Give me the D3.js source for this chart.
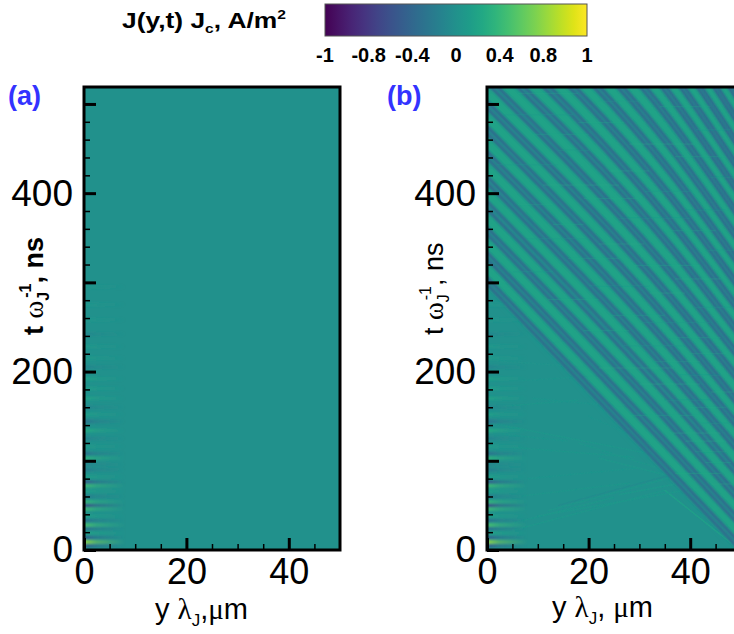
<!DOCTYPE html>
<html>
<head>
<meta charset="utf-8">
<title>J(y,t)</title>
<script src="https://cdn.jsdelivr.net/npm/d3@7"></script>
<style>
  html, body { margin: 0; padding: 0; background: #fff; overflow: hidden; }
  text { font-family: "Liberation Sans", Arial, sans-serif; }
</style>
</head>
<body>
<div id="chart"></div>
<script>
// colorbar
const barValues = [-1, -0.8, -0.4, 0, 0.4, 0.8, 1];
const barLabels = ["-1", "-0.8", "-0.4", "0", "0.4", "0.8", "1"];

// axis ticks
const tMajor = [0, 100, 200, 300, 400, 500];
const tMinor = [20, 40, 60, 80, 120, 140, 160, 180, 220, 240, 260, 280, 320, 340, 360, 380, 420, 440, 460, 480];
const tLabelled = [0, 200, 400];
const yMajor = [0, 20, 40];
const yMinor = [5, 10, 15, 25, 30, 35, 45];

// fluxon stripes in panel b, t read where each crosses y = stripeY[i]
const stripeY = [0, 36, 50];
const stripeT0 = [298,306,326,334,354,362,382,391,411,419,439,447,467,475,495,503,523,531,552,560,580,588,608,616,636,644,664,672,693,701,721,729,749,757,777,785,805,813,833,841,861,869];
const stripeT1 = [83,91,111,119,139,147,167,176,196,204,224,232,252,260,280,288,308,316,337,345,365,373,393,401,421,429,449,457,478,486,506,514,534,542,562,570,590,598,618,626,646,654];
const stripeT2 = [-1,7,25,33,51,59,78,86,105,113,131,139,157,165,184,192,210,218,236,244,262,270,288,296,314,322,340,348,367,375,393,401,419,427,445,453,471,479,497,505,523,531];

// bursts at the y = 0 edge, both panels
const burstT = [5,9,14,19,24,28,33,38,46,50,54,60,66,72,76,82,90,96,103,108,116,125,134,144,152,160,170,181,192,205,215,228,242,258,275,295];
const burstAmp = [-0.5,0.8,-0.45,0.2,-0.35,0.5,-0.3,0.15,0.45,-0.7,0.4,-0.2,0.15,0.45,-0.5,0.15,-0.2,-0.15,0.35,-0.3,0.12,-0.15,0.28,-0.3,0.15,-0.12,0.2,0.15,0.18,-0.12,0.12,0.1,-0.1,0.08,0.07,0.06];
const burstReach = 8;

// faint rays below the front in panel b
const rayY0 = [5,5,5,18,1,1,7,35,12,8,20,3,10,14,6,22,26,9,2,16];
const rayT0 = [22,30,115,120,142,160,190,67,44,80,150,130,38,50,60,103,62,170,212,236];
const rayY1 = [35,25,29,33,31,18,24,48,38,30,32,16,42,36,28,38,41,28,19,13];
const rayT1 = [67,59,104,93,109,168,196,8,84,92,120,122,70,84,75,80,78,160,205,232];
const rayAmp = [0.06,0.06,0.05,0.05,0.06,0.05,0.04,0.15,0.06,0.04,0.04,0.04,0.06,-0.04,0.05,0.06,0.07,0.04,0.03,0.03];

// short horizontal streaks over the stripes in panel b
const streakT = [512,503,497,488,479,471,466,455,448,441,432,425,418,409,402,394,387,381,372,365,358,349,343,336,327,319,312,304,296,288,281,272,263,255,246,238,229,220,211,204,196,186,177,168,160,151,142,131,122,110,98,86,74];
const streakY0 = [6,22,34,3,18,41,9,28,14,37,2,24,44,11,31,19,6,39,26,13,35,8,22,43,16,29,5,37,20,32,12,41,24,30,19,36,27,40,33,22,38,30,44,35,40,28,42,36,39,41,43,37,44];
const streakLen = [12,8,10,14,9,7,11,13,6,10,12,8,6,15,9,11,7,8,14,6,10,12,9,6,10,13,8,9,12,7,10,8,11,14,9,10,12,7,9,15,8,12,5,9,7,14,6,10,8,6,5,9,5];
const streakAmp = [0.24,0.04,0.22,0.06,0.25,0.05,0.2,0.26,0.04,0.22,0.06,0.24,0.05,0.2,0.05,0.24,0.22,0.04,0.05,0.25,0.2,0.04,0.22,0.05,0.2,0.24,0.05,0.22,0.04,0.2,0.24,0.05,0.22,0.04,0.26,0.2,0.05,0.24,0.2,0.22,0.05,0.26,0.2,0.05,0.24,0.22,0.05,0.2,0.26,0.2,0.24,0.28,0.2];

const width = 734, height = 634;
const svg = d3.select("#chart").append("svg").attr("width", width).attr("height", height);
const defs = svg.append("defs");

// the colorbar is evenly spaced in label order, not in value
const barPos = d3.scaleLinear().domain(barValues).range(barValues.map((d, i) => i / (barValues.length - 1)));
const color = v => d3.interpolateViridis(barPos(v));

defs.append("filter").attr("id", "soft").append("feGaussianBlur").attr("stdDeviation", 0.7);
defs.append("filter").attr("id", "burst").append("feGaussianBlur").attr("stdDeviation", "0.8 1");
defs.append("filter").attr("id", "stripe").append("feGaussianBlur").attr("stdDeviation", 0.9);
defs.append("filter").attr("id", "wide").attr("x", "-20%").attr("y", "-20%").attr("width", "140%").attr("height", "140%")
  .append("feGaussianBlur").attr("stdDeviation", 3);

drawColorbar();

const panelA = drawPanel({
  id: "a", letter: "(a)", letterX: 8, left: 84, right: 340, titleX: 43, titleBold: true,
  xTitle: ["y ", "λ", "J", ",", "μ", "m"], xTitleX: 155, xTitleY: 619
});
const panelB = drawPanel({
  id: "b", letter: "(b)", letterX: 387, left: 487, right: 741, titleX: 443, titleBold: false,
  xTitle: ["y ", "λ", "J", ", ", "μ", "m"], xTitleX: 552, xTitleY: 617
});

function drawColorbar() {
  const x = d3.scalePoint().domain(barLabels).range([325, 587]);
  const grad = defs.append("linearGradient").attr("id", "barGrad");
  d3.range(0, 1.001, 0.05).forEach(p => {
    grad.append("stop").attr("offset", p).attr("stop-color", d3.interpolateViridis(p));
  });
  svg.append("rect").attr("x", 325).attr("y", 4).attr("width", 262).attr("height", 32)
    .attr("fill", "url(#barGrad)").attr("stroke", "#555").attr("stroke-width", 1);
  svg.selectAll(".barLabel").data(barLabels).enter().append("text")
    .attr("class", "barLabel")
    .attr("x", d => x(d)).attr("y", 62)
    .attr("text-anchor", "middle").attr("font-size", 20).attr("font-weight", "bold")
    .text(d => d);

  // the reference title is stretched sideways
  const t = svg.append("text").attr("transform", "translate(122,28) scale(1.2,1)")
    .attr("font-size", 22).attr("font-weight", "bold");
  t.append("tspan").text("J(y,t) J");
  t.append("tspan").attr("font-size", 13).attr("dy", 5).text("c");
  t.append("tspan").attr("dy", -5).text(", A/m");
  t.append("tspan").attr("font-size", 13).attr("dy", -9).text("2");
}

function drawPanel(p) {
  const x = d3.scaleLinear().domain([0, 50]).range([p.left, p.right]);
  const y = d3.scaleLinear().domain([0, 519]).range([550, 87]);
  const g = svg.append("g");

  defs.append("clipPath").attr("id", "clip" + p.id).append("rect")
    .attr("x", p.left).attr("y", 87).attr("width", p.right - p.left).attr("height", 463);

  const plot = g.append("g").attr("clip-path", "url(#clip" + p.id + ")");
  plot.append("rect").attr("x", p.left).attr("y", 87).attr("width", p.right - p.left).attr("height", 463)
    .attr("fill", color(0));

  const line = d3.line().x(d => x(d[0])).y(d => y(d[1])).curve(d3.curveMonotoneX);

  if (p.id === "b") {
    // green behind the front, soft edge
    const front = stripeY.map((v, i) => [v, [stripeT0, stripeT1, stripeT2][i][0]]);
    const area = d3.area().x(d => x(d[0])).y0(y(600)).y1(d => y(d[1])).curve(d3.curveMonotoneX);
    plot.append("path").datum(front).attr("d", area)
      .attr("fill", color(0.12)).attr("filter", "url(#wide)");

    plot.append("g").selectAll("path").data(rayY0).enter().append("path")
      .attr("d", (d, i) => line([[rayY0[i], rayT0[i]], [rayY1[i], rayT1[i]]]))
      .attr("fill", "none").attr("stroke", (d, i) => color(rayAmp[i]))
      .attr("stroke-width", 1.2).attr("filter", "url(#soft)");
  }

  // edge bursts fade out along y
  const bursts = plot.append("g").attr("filter", "url(#burst)");
  burstT.forEach((t, i) => {
    const id = "burst" + p.id + i;
    const grad = defs.append("linearGradient").attr("id", id);
    grad.append("stop").attr("offset", 0).attr("stop-color", color(burstAmp[i]));
    grad.append("stop").attr("offset", 0.3).attr("stop-color", color(burstAmp[i])).attr("stop-opacity", 0.45);
    grad.append("stop").attr("offset", 1).attr("stop-color", color(burstAmp[i])).attr("stop-opacity", 0);
    bursts.append("rect")
      .attr("x", x(0)).attr("y", y(t + 2))
      .attr("width", x(burstReach) - x(0)).attr("height", y(0) - y(4))
      .attr("fill", "url(#" + id + ")");
  });

  if (p.id === "b") {
    const stripes = stripeT0.map((d, i) => [[stripeY[0], stripeT0[i]], [stripeY[1], stripeT1[i]], [stripeY[2], stripeT2[i]]]);

    // brighter green between the pairs
    plot.append("g").selectAll("path").data(stripes.filter((d, i) => i % 2 === 0)).enter().append("path")
      .attr("d", d => line(d.map(v => [v[0], v[1] + 18])))
      .attr("fill", "none").attr("stroke", color(0.2)).attr("stroke-width", 8)
      .attr("filter", "url(#wide)");

    // inside a pair the field drops back to teal
    plot.append("g").attr("filter", "url(#soft)").selectAll("path").data(stripes.filter((d, i) => i % 2 === 0)).enter().append("path")
      .attr("d", d => line(d.map(v => [v[0], v[1] + 4])))
      .attr("fill", "none").attr("stroke", color(-0.02)).attr("stroke-width", 5);

    plot.append("g").attr("filter", "url(#stripe)").selectAll("path").data(stripes).enter().append("path")
      .attr("d", line)
      .attr("fill", "none").attr("stroke", color(-0.4)).attr("stroke-width", 2.6);

    plot.append("g").attr("filter", "url(#soft)").selectAll("line").data(streakT).enter().append("line")
      .attr("x1", (d, i) => x(streakY0[i])).attr("x2", (d, i) => x(streakY0[i] + streakLen[i]))
      .attr("y1", d => y(d)).attr("y2", d => y(d))
      .attr("stroke", (d, i) => color(streakAmp[i]))
      .attr("stroke-width", 1.2).attr("stroke-opacity", 0.3);
  }

  // axes sit inside the frame
  const yAxis = d3.axisLeft(y).tickValues(tMajor).tickSize(-12).tickPadding(11)
    .tickFormat(d => tLabelled.includes(d) ? d : "");
  const yAxisMinor = d3.axisLeft(y).tickValues(tMinor).tickSize(-6).tickFormat("");
  const xAxis = d3.axisBottom(x).tickValues(yMajor).tickSize(-12).tickPadding(8);
  const xAxisMinor = d3.axisBottom(x).tickValues(yMinor).tickSize(-6).tickFormat("");

  [[yAxis, 3, 37], [yAxisMinor, 1.5, 37]].forEach(a => {
    const ax = g.append("g").attr("transform", "translate(" + p.left + ",0)").call(a[0]);
    ax.select(".domain").remove();
    ax.selectAll("line").attr("stroke", "#000").attr("stroke-width", a[1]);
    ax.selectAll("text").attr("font-size", a[2]).attr("font-family", "Liberation Sans").attr("fill", "#000");
  });
  [[xAxis, 3, 36], [xAxisMinor, 1.5, 36]].forEach(a => {
    const ax = g.append("g").attr("transform", "translate(0,550)").call(a[0]);
    ax.select(".domain").remove();
    ax.selectAll("line").attr("stroke", "#000").attr("stroke-width", a[1]);
    ax.selectAll("text").attr("font-size", a[2]).attr("font-family", "Liberation Sans").attr("fill", "#000");
  });

  g.append("rect").attr("x", p.left).attr("y", 87).attr("width", p.right - p.left).attr("height", 463)
    .attr("fill", "none").attr("stroke", "#000").attr("stroke-width", 3);

  g.append("text").attr("x", p.letterX).attr("y", 105)
    .attr("font-size", 27).attr("font-weight", "bold").attr("fill", "#3333ff")
    .text(p.letter);

  // y title
  const w = p.titleBold ? "bold" : "normal";
  const yt = g.append("text").attr("transform", "translate(" + p.titleX + ",335) rotate(-90)")
    .attr("font-size", 27).attr("font-weight", w);
  yt.append("tspan").text("t ");
  yt.append("tspan").attr("font-family", "Liberation Serif").attr("font-weight", "normal").text("ω");
  yt.append("tspan").attr("font-size", 16).attr("dy", 6).text("J");
  yt.append("tspan").attr("font-size", 16).attr("dy", -18).attr("dx", -6).text("-1");
  yt.append("tspan").attr("dy", 12).text(", ns");

  // x title
  const xt = g.append("text").attr("x", p.xTitleX).attr("y", p.xTitleY).attr("font-size", 29);
  xt.append("tspan").text(p.xTitle[0]);
  xt.append("tspan").attr("font-family", "Liberation Serif").text(p.xTitle[1]);
  xt.append("tspan").attr("font-size", 17).attr("dy", 7).text(p.xTitle[2]);
  xt.append("tspan").attr("dy", -7).text(p.xTitle[3]);
  xt.append("tspan").attr("font-family", "Liberation Serif").text(p.xTitle[4]);
  xt.append("tspan").text(p.xTitle[5]);

  return g;
}
</script>
</body>
</html>
